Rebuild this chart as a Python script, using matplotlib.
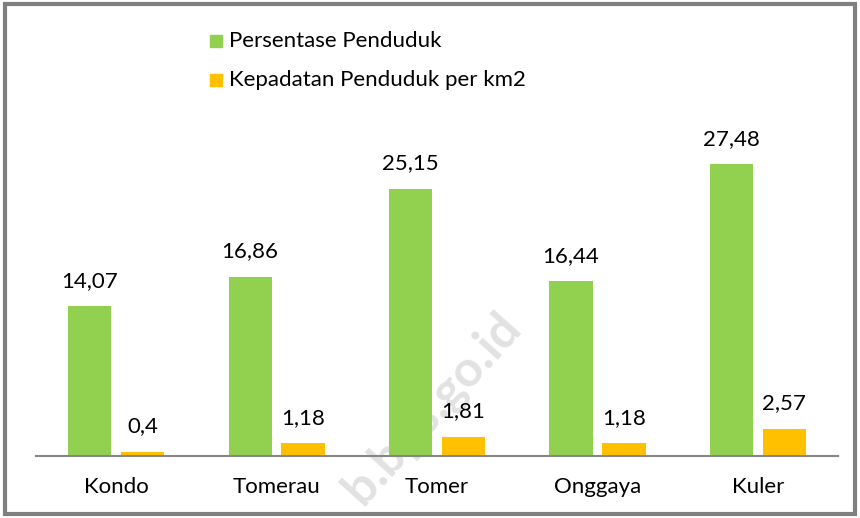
import matplotlib.pyplot as plt
import numpy as np
from matplotlib.patches import Rectangle

plt.rcParams['font.family'] = ['Lato', 'DejaVu Sans']

kecamatan = ["Kondo", "Tomerau", "Tomer", "Onggaya", "Kuler"]
persentase = [14.07, 16.86, 25.15, 16.44, 27.48]
kepadatan = [0.4, 1.18, 1.81, 1.18, 2.57]
labels_persentase = ["14,07", "16,86", "25,15", "16,44", "27,48"]
labels_kepadatan = ["0,4", "1,18", "1,81", "1,18", "2,57"]

green = "#92d050"
orange = "#ffc000"
fs = 16

fig = plt.figure(figsize=(8.6, 5.18), dpi=100)
ax = fig.add_axes([0.0419, 0.1197, 0.9325, 0.718])
ax.patch.set_visible(False)

x = np.arange(len(kecamatan))
w = 0.27
b1 = ax.bar(x - 0.165, persentase, w, color=green)
b2 = ax.bar(x + 0.165, kepadatan, w, color=orange)

for bar, lab in zip(b1, labels_persentase):
    ax.annotate(lab, (bar.get_x() + bar.get_width() / 2, bar.get_height()),
                xytext=(0, 11), textcoords="offset points", ha="center", va="bottom", fontsize=fs)
for bar, lab in zip(b2, labels_kepadatan):
    ax.annotate(lab, (bar.get_x() + bar.get_width() / 2, bar.get_height()),
                xytext=(0, 11), textcoords="offset points", ha="center", va="bottom", fontsize=fs)

ax.set_xlim(-0.5, len(kecamatan) - 0.5)
ax.set_ylim(0, 35)
ax.set_xticks(x)
ax.set_xticklabels(kecamatan, fontsize=fs)
ax.tick_params(axis="x", length=0, pad=15)
ax.set_yticks([])
for s in ["top", "right", "left"]:
    ax.spines[s].set_visible(False)
ax.spines["bottom"].set_color("#868686")
ax.spines["bottom"].set_linewidth(1.5)

# legend drawn by hand at the top
fig.patches.append(Rectangle((210 / 860, 1 - 47 / 518), 12 / 860, 12 / 518,
                             transform=fig.transFigure, color=green))
fig.patches.append(Rectangle((210 / 860, 1 - 86 / 518), 12 / 860, 12 / 518,
                             transform=fig.transFigure, color=orange))
fig.text(229 / 860, 1 - 41 / 518, "Persentase Penduduk", fontsize=fs, va="center")
fig.text(229 / 860, 1 - 80 / 518, "Kepadatan Penduduk per km2", fontsize=fs, va="center")

# watermark
fig.text(432 / 860, 1 - 408 / 518, "b.bps.go.id", fontsize=36, fontweight="bold",
         color="#e2e2e2", rotation=48, ha="center", va="center", zorder=-1)

# outer border
fig.patches.append(Rectangle((0.006, 0.008), 0.988, 0.984, transform=fig.transFigure,
                             fill=False, edgecolor="#808080", linewidth=3))

fig.savefig("out.png", dpi=100)
